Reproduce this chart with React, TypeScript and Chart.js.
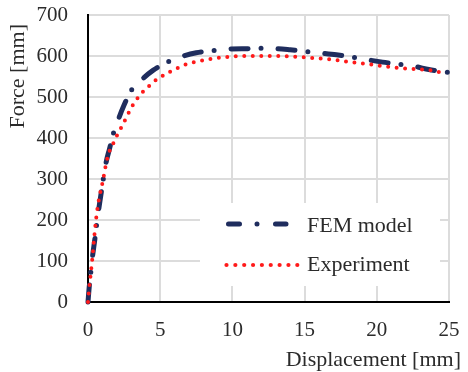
import React, { useEffect, useRef } from "react";
import { Chart, registerables } from "chart.js";

Chart.register(...registerables);

// ---- data ----
const seriesNames = ["FEM model", "Experiment"];
const xTitle = "Displacement [mm]";
const yTitle = "Force [mm]";

const xTicks = [0, 5, 10, 15, 20, 25];
const yTicks = [0, 100, 200, 300, 400, 500, 600, 700];

const femX = [0, 0.08, 0.2, 0.32, 0.47, 0.6, 0.75, 0.88, 1.05, 1.25, 1.5, 1.75, 2.13, 2.47, 3.0, 3.77, 4.5, 5.5, 6.6, 7.5, 8.6, 9.8, 11.2, 12.0, 13.0, 14.0, 15.1, 16.2, 17.2, 18.35, 19.5, 20.4, 21.5, 22.7, 23.6, 25];
const femY = [0, 35, 75, 113, 152, 190, 228, 258, 298, 340, 375, 410, 448, 478, 516, 544, 565, 585, 600, 608, 613, 617, 618, 619, 618, 615, 611, 607, 603, 597, 590, 585, 580, 574, 567, 560];

const expX = [0, 0.1, 0.2, 0.3, 0.4, 0.5, 0.65, 0.8, 1.0, 1.3, 1.5, 1.78, 2.03, 2.31, 2.57, 2.84, 3.12, 3.47, 3.86, 4.27, 4.73, 5.24, 5.75, 6.28, 6.81, 7.39, 8.57, 9.74, 10.9, 12.1, 13.3, 14.5, 15.6, 16.8, 18.0, 19.2, 20.3, 21.5, 22.7, 23.9, 24.6];
const expY = [0, 40, 72, 106, 145, 183, 227, 258, 290, 345, 369, 389, 408, 426, 444, 463, 481, 499, 515, 528, 542, 553, 563, 572, 580, 585, 593, 598, 600, 600, 600, 598, 595, 592, 586, 581, 576, 571, 568, 564, 558];

// ---- styles ----
const NAVY = "#1F2D5E";
const RED = "#FF1A1A";
const TEXT = "#2b2b2b";
const GRID = "#dcdcdc";
const SERIF = '"Liberation Serif", "Times New Roman", serif';

const zeroPad = (s: any) => {
  s.paddingTop = 0;
  s.paddingBottom = 0;
  s.paddingLeft = 0;
  s.paddingRight = 0;
};

const overlay = {
  id: "overlay",
  afterDatasetsDraw(chart: any) {
    const ctx = chart.ctx as CanvasRenderingContext2D;
    const a = chart.chartArea;
    ctx.save();
    // legend box (inside plot, bottom right)
    const bx = a.left + 112;
    const by = a.top + 188;
    ctx.fillStyle = "#ffffff";
    ctx.fillRect(bx, by, 240, 83);

    // FEM legend line (dash - dot - dash)
    ctx.strokeStyle = NAVY;
    ctx.lineWidth = 5;
    ctx.lineCap = "round";
    ctx.setLineDash([11, 17.5, 0, 18.5]);
    ctx.beginPath();
    ctx.moveTo(bx + 28.5, by + 21);
    ctx.lineTo(bx + 86, by + 21);
    ctx.stroke();
    ctx.setLineDash([]);

    // Experiment legend dots
    ctx.fillStyle = RED;
    for (let i = 0; i < 9; i++) {
      ctx.beginPath();
      ctx.arc(bx + 26.5 + i * 8.85, by + 62, 2.1, 0, Math.PI * 2);
      ctx.fill();
    }

    ctx.fillStyle = TEXT;
    ctx.font = `22px ${SERIF}`;
    ctx.textAlign = "left";
    ctx.textBaseline = "alphabetic";
    ctx.fillText(seriesNames[0], bx + 107, by + 28.5);
    ctx.fillText(seriesNames[1], bx + 107, by + 67.5);
    ctx.restore();
  },
  afterDraw(chart: any) {
    const ctx = chart.ctx as CanvasRenderingContext2D;
    const a = chart.chartArea;
    ctx.save();
    ctx.fillStyle = TEXT;
    ctx.font = `22px ${SERIF}`;
    ctx.textBaseline = "alphabetic";
    // x title, right aligned past the plot edge
    ctx.textAlign = "right";
    ctx.fillText(xTitle, a.right + 12, a.bottom + 63.5);
    // y title, rotated, near the top
    ctx.translate(24, a.top + 113.5);
    ctx.rotate(-Math.PI / 2);
    ctx.textAlign = "left";
    ctx.fillText(yTitle, 0, 0);
    ctx.restore();
  },
};

export default function App() {
  const ref = useRef<HTMLCanvasElement | null>(null);

  useEffect(() => {
    document.body.style.margin = "0";
    const canvas = ref.current;
    if (!canvas) return;
    const chart = new Chart(canvas, {
      type: "line",
      data: {
        datasets: [
          {
            label: seriesNames[1],
            data: expX.map((x, i) => ({ x, y: expY[i] })),
            borderColor: RED,
            borderWidth: 4,
            borderDash: [0, 8.5],
            borderCapStyle: "round",
            pointRadius: 0,
            cubicInterpolationMode: "monotone",
            fill: false,
            clip: 6,
          },
          {
            label: seriesNames[0],
            data: femX.map((x, i) => ({ x, y: femY[i] })),
            borderColor: NAVY,
            borderWidth: 5,
            borderDash: [17, 13, 0, 17],
            borderCapStyle: "round",
            pointRadius: 0,
            cubicInterpolationMode: "monotone",
            fill: false,
            clip: 6,
          },
        ],
      },
      options: {
        responsive: false,
        animation: false,
        devicePixelRatio: 1,
        layout: { padding: { top: 15, right: 19, left: 0, bottom: 0 } },
        plugins: {
          legend: { display: false },
          tooltip: { enabled: false },
          title: { display: false },
        },
        scales: {
          x: {
            type: "linear",
            min: 0,
            max: 25,
            afterFit: (s: any) => {
              s.height = 70;
              zeroPad(s);
            },
            afterBuildTicks: (s: any) => {
              s.ticks = xTicks.map((v) => ({ value: v }));
            },
            ticks: {
              color: TEXT,
              font: { family: SERIF, size: 21 },
              padding: 16,
              maxRotation: 0,
            },
            grid: { color: GRID, lineWidth: 2, drawTicks: false },
            border: { display: true, color: "#000", width: 2 },
          },
          y: {
            type: "linear",
            min: 0,
            max: 700,
            afterFit: (s: any) => {
              s.width = 88;
              zeroPad(s);
            },
            afterBuildTicks: (s: any) => {
              s.ticks = yTicks.map((v) => ({ value: v }));
            },
            ticks: {
              color: TEXT,
              font: { family: SERIF, size: 21 },
              padding: 20,
            },
            grid: { color: GRID, lineWidth: 2, drawTicks: false },
            border: { display: true, color: "#000", width: 2 },
          },
        },
      },
      plugins: [overlay],
    } as any);
    return () => chart.destroy();
  }, []);

  return (
    <canvas
      ref={ref}
      width={468}
      height={372}
      style={{ display: "block", width: 468, height: 372 }}
    />
  );
}
